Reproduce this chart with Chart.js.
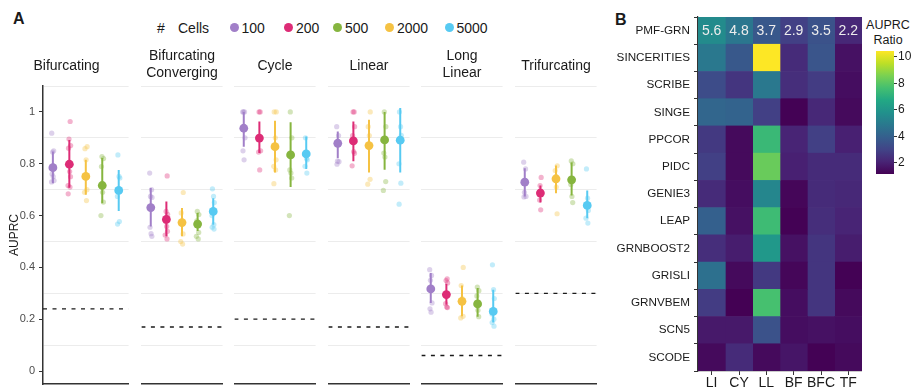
<!DOCTYPE html>
<html>
<head>
<meta charset="utf-8">
<script src="https://cdn.jsdelivr.net/npm/chart.js@4.4.1/dist/chart.umd.min.js"></script>
<style>
  body { margin: 0; background: #fff; }
  #wrap { position: relative; width: 919px; height: 389px; overflow: hidden; font-family: 'Liberation Sans', Arial, sans-serif; color: #1a1a1a; }
  #wrap canvas { position: absolute; }
  .panel { position: absolute; font-weight: bold; font-size: 16px; line-height: 16px; }
  .leg { position: absolute; top: 20px; font-size: 14px; line-height: 16px; white-space: nowrap; }
  .dot { position: absolute; top: 23px; width: 9px; height: 9px; border-radius: 50%; }
  #cbtitle { position: absolute; left: 858px; top: 18px; width: 60px; text-align: center; font-size: 12.5px; line-height: 15px; }
</style>
</head>
<body>
<div id="wrap">
  <div class="panel" style="left:13px;top:11px">A</div>
  <div class="panel" style="left:615px;top:12px">B</div>
  <div class="leg" style="left:157px">#</div>
  <div class="leg" style="left:178px">Cells</div>
  <div id="legend"></div>
  <div id="cbtitle">AUPRC<br>Ratio</div>
  <canvas id="f0" width="133" height="349" style="left:0;top:40px"></canvas>
  <canvas id="f1" width="90" height="349" style="left:137px;top:40px"></canvas>
  <canvas id="f2" width="90" height="349" style="left:230px;top:40px"></canvas>
  <canvas id="f3" width="90" height="349" style="left:324px;top:40px"></canvas>
  <canvas id="f4" width="90" height="349" style="left:417px;top:40px"></canvas>
  <canvas id="f5" width="90" height="349" style="left:511px;top:40px"></canvas>
  <canvas id="heat" width="257" height="389" style="left:605px;top:0"></canvas>
  <canvas id="cbar" width="43" height="200" style="left:876px;top:0"></canvas>
</div>
<script>
Chart.defaults.font.family = "'Liberation Sans', Arial, sans-serif";

// ---- panel A data ----
var topologies = [['Bifurcating'], ['Bifurcating', 'Converging'], ['Cycle'], ['Linear'], ['Long', 'Linear'], ['Trifurcating']];
var cellCounts = ['100', '200', '500', '2000', '5000'];
// order of the groups left to right inside each facet
var slotOrder = ['100', '200', '2000', '500', '5000'];
var randomBaseline = [0.24, 0.17, 0.20, 0.17, 0.06, 0.30];

// values per facet, in cellCounts order
var meanAUPRC = [
    [0.785, 0.798, 0.716, 0.751, 0.697],
    [0.631, 0.585, 0.567, 0.573, 0.616],
    [0.937, 0.899, 0.834, 0.866, 0.838],
    [0.879, 0.888, 0.892, 0.870, 0.891],
    [0.317, 0.295, 0.259, 0.269, 0.230],
    [0.729, 0.687, 0.738, 0.742, 0.639]
];
var errLow = [
    [0.725, 0.707, 0.648, 0.680, 0.618],
    [0.558, 0.520, 0.540, 0.520, 0.565],
    [0.866, 0.841, 0.710, 0.766, 0.780],
    [0.821, 0.810, 0.777, 0.766, 0.766],
    [0.263, 0.256, 0.210, 0.211, 0.187],
    [0.674, 0.650, 0.677, 0.686, 0.590]
];
var errHigh = [
    [0.847, 0.892, 0.822, 0.815, 0.776],
    [0.706, 0.654, 0.610, 0.629, 0.667],
    [1.000, 0.963, 0.960, 0.966, 0.905],
    [0.924, 0.963, 1.000, 0.970, 1.015],
    [0.378, 0.337, 0.320, 0.330, 0.314],
    [0.783, 0.716, 0.805, 0.793, 0.697]
];
var runAUPRC = [
    [[0.918, 0.85, 0.845, 0.79, 0.76, 0.75, 0.735, 0.73],
     [0.963, 0.895, 0.87, 0.86, 0.77, 0.75, 0.716, 0.71, 0.684],
     [0.828, 0.82, 0.789, 0.69, 0.652, 0.60],
     [0.866, 0.858, 0.815, 0.70, 0.69, 0.658],
     [0.834, 0.751, 0.745, 0.674, 0.577, 0.567]],
    [[0.764, 0.70, 0.674, 0.67, 0.555, 0.53, 0.52],
     [0.753, 0.616, 0.605, 0.577, 0.558, 0.539, 0.525, 0.51],
     [0.616, 0.604, 0.58, 0.56, 0.535, 0.52, 0.51],
     [0.689, 0.61, 0.58, 0.529, 0.50, 0.49],
     [0.703, 0.674, 0.65, 0.60, 0.565, 0.555, 0.548]],
    [[1, 1, 1, 0.90, 0.85, 0.815],
     [1, 1, 0.85, 0.845, 0.776],
     [1, 0.90, 0.776, 0.764, 0.745, 0.60],
     [1, 1, 0.90, 0.815, 0.79, 0.776, 0.723],
     [0.90, 0.82, 0.815, 0.79, 0.764]],
    [[0.943, 0.909, 0.81, 0.808, 0.798],
     [1, 1, 0.943, 0.909, 0.847, 0.84, 0.792],
     [1, 0.943, 0.841, 0.826, 0.731, 0.697],
     [1, 0.943, 0.909, 0.74, 0.721],
     [1, 0.943, 0.91, 0.80, 0.725, 0.644]],
    [[0.391, 0.369, 0.35, 0.263, 0.24, 0.227],
     [0.356, 0.349, 0.34, 0.26, 0.247, 0.245],
     [0.324, 0.31, 0.29, 0.235, 0.21],
     [0.40, 0.33, 0.28, 0.211, 0.205],
     [0.41, 0.314, 0.28, 0.22, 0.20, 0.187, 0.173]],
    [[0.806, 0.78, 0.69, 0.674, 0.672],
     [0.747, 0.716, 0.69, 0.66, 0.622],
     [0.811, 0.80, 0.72, 0.674, 0.65],
     [0.792, 0.774, 0.71, 0.607],
     [0.78, 0.667, 0.62, 0.59, 0.571]]
];
var yTicks = [0, 0.1, 0.2, 0.3, 0.4, 0.5, 0.6, 0.7, 0.8, 0.9, 1.0, 1.1];

// ---- panel B data ----
var methods = ['PMF-GRN', 'SINCERITIES', 'SCRIBE', 'SINGE', 'PPCOR', 'PIDC', 'GENIE3', 'LEAP', 'GRNBOOST2', 'GRISLI', 'GRNVBEM', 'SCN5', 'SCODE'];
var datasetCodes = ['LI', 'CY', 'LL', 'BF', 'BFC', 'TF'];
var ratioAUPRC = [
    [5.6, 4.8, 3.7, 2.9, 3.5, 2.2],
    [4.9, 3.7, 10.45, 2.3, 3.6, 1.6],
    [3.3, 2.6, 4.9, 2.4, 2.8, 1.5],
    [4.2, 4.1, 2.9, 1.2, 2.2, 1.4],
    [2.7, 1.4, 7.4, 2.1, 2.9, 2.0],
    [2.9, 1.4, 8.3, 2.0, 2.3, 2.3],
    [2.3, 1.5, 5.4, 1.3, 2.3, 2.2],
    [4.0, 1.6, 7.5, 1.2, 2.4, 2.1],
    [2.4, 1.9, 6.1, 1.6, 2.6, 1.9],
    [4.6, 1.4, 2.7, 1.3, 2.6, 1.2],
    [2.8, 1.17, 7.7, 1.5, 2.6, 1.4],
    [1.8, 1.8, 3.5, 1.5, 1.6, 1.5],
    [1.4, 2.3, 1.4, 1.7, 1.2, 1.4]
];
var colorTicks = [2, 4, 6, 8, 10];

// ---- styles ----
var cellColors = ['#a17fc8', '#dd2c76', '#86b53f', '#f5c243', '#57caf2'];
var legendDotLeft = [229.5, 284, 333, 385, 444.5];
var jitter = [-0.07, 0.05, -0.02, 0.08, -0.05, 0.02, 0.07, -0.08, 0.04];
var viridisStops = ['#440154', '#482475', '#414487', '#355f8d', '#2a788e', '#21918c', '#22a884', '#44bf70', '#7ad151', '#bddf26', '#fde725'];

function hexToRgb(h) {
    return [parseInt(h.substr(1, 2), 16), parseInt(h.substr(3, 2), 16), parseInt(h.substr(5, 2), 16)];
}
function alpha(h, a) {
    var c = hexToRgb(h);
    return 'rgba(' + c[0] + ',' + c[1] + ',' + c[2] + ',' + a + ')';
}

var allRatios = ratioAUPRC.reduce(function (a, r) { return a.concat(r); }, []);
var colorMin = Math.min.apply(null, allRatios);
var colorMax = Math.max.apply(null, allRatios);

function viridis(v) {
    var t = Math.max(0, Math.min(1, (v - colorMin) / (colorMax - colorMin))) * (viridisStops.length - 1);
    var i = Math.min(Math.floor(t), viridisStops.length - 2);
    var f = t - i;
    var a = hexToRgb(viridisStops[i]), b = hexToRgb(viridisStops[i + 1]);
    return 'rgb(' + a.map(function (x, k) { return Math.round(x + (b[k] - x) * f); }).join(',') + ')';
}

// legend
document.getElementById('legend').innerHTML = cellCounts.map(function (c, k) {
    return '<span class="dot" style="left:' + legendDotLeft[k] + 'px;background:' + cellColors[k] + '"></span>' +
        '<span class="leg" style="left:' + (legendDotLeft[k] + 12) + 'px">' + c + '</span>';
}).join('');

// ---- panel A: one chart per facet ----
function isOddTenth(v) { return Math.round(v * 10) % 2 === 1; }

topologies.forEach(function (topo, f) {
    var first = f === 0;
    var datasets = [];
    cellCounts.forEach(function (c, k) {
        var x = slotOrder.indexOf(c) + 1;
        datasets.push({
            type: 'scatter', order: 0,
            data: [{ x: x, y: meanAUPRC[f][k] }],
            backgroundColor: cellColors[k], pointRadius: 4.4, pointBorderWidth: 0
        });
        datasets.push({
            type: 'scatter', order: 1, showLine: true,
            data: [{ x: x, y: errLow[f][k] }, { x: x, y: errHigh[f][k] }],
            borderColor: cellColors[k], borderWidth: 2, pointRadius: 0
        });
        datasets.push({
            type: 'scatter', order: 2,
            data: runAUPRC[f][k].map(function (v, i) { return { x: x + jitter[(i + k) % jitter.length], y: v }; }),
            backgroundColor: alpha(cellColors[k], 0.36), pointRadius: 2.6, pointBorderWidth: 0
        });
    });
    datasets.push({
        type: 'scatter', order: 3, showLine: true,
        data: [{ x: 0.4, y: randomBaseline[f] }, { x: 5.6, y: randomBaseline[f] }],
        borderColor: '#1a1a1a', borderWidth: 1.3, borderDash: [4, 5.5], pointRadius: 0
    });

    new Chart(document.getElementById('f' + f), {
        type: 'scatter',
        data: { datasets: datasets },
        options: {
            responsive: false,
            animation: false,
            layout: { padding: { top: 0, bottom: 5, left: 0, right: 0 } },
            plugins: {
                legend: { display: false },
                tooltip: { enabled: false },
                title: {
                    display: true,
                    text: topo,
                    color: '#1a1a1a',
                    font: { size: 14, weight: 'normal', lineHeight: 1.2 },
                    padding: topo.length > 1 ? { top: 7.6, bottom: 4.8 } : { top: 17.6, bottom: 11.6 }
                }
            },
            scales: {
                x: {
                    type: 'linear', min: 0.4, max: 5.6,
                    grid: { display: false, drawTicks: false },
                    ticks: { display: false },
                    border: { display: true, color: '#333', width: 1.5 },
                    afterFit: function (s) { s.height = 0; s.paddingLeft = 0; s.paddingRight = 0; }
                },
                y: {
                    min: -0.05, max: 1.1,
                    afterBuildTicks: function (s) { s.ticks = yTicks.map(function (v) { return { value: v }; }); },
                    grid: {
                        color: function (ctx) { return ctx.tick && isOddTenth(ctx.tick.value) ? '#ececec' : 'rgba(0,0,0,0)'; },
                        tickColor: function (ctx) { return ctx.tick && !isOddTenth(ctx.tick.value) ? '#333' : 'rgba(0,0,0,0)'; },
                        lineWidth: 1,
                        drawTicks: first,
                        tickLength: 4
                    },
                    ticks: {
                        display: first,
                        padding: 4,
                        color: '#4d4d4d',
                        font: { size: 11 },
                        callback: function (v) {
                            if (isOddTenth(v)) return '';
                            return Math.abs(v - Math.round(v)) < 1e-6 ? String(Math.round(v)) : v.toFixed(1);
                        }
                    },
                    border: { display: first, color: '#333', width: 1.5 },
                    title: { display: first, text: 'AUPRC', color: '#1a1a1a', font: { size: 12 }, padding: { top: 7, bottom: 0 } },
                    afterFit: function (s) { s.width = first ? 43 : 0; s.paddingTop = 0; s.paddingBottom = 0; }
                }
            }
        }
    });
});

// ---- panel B: heatmap ----
var cellLabels = {
    id: 'cellLabels',
    afterDatasetsDraw: function (chart) {
        var ctx = chart.ctx, x = chart.scales.x, y = chart.scales.y;
        ctx.save();
        ctx.font = "14px 'Liberation Sans', Arial, sans-serif";
        ctx.fillStyle = '#ededed';
        ctx.textAlign = 'center';
        ctx.textBaseline = 'middle';
        ratioAUPRC[0].forEach(function (v, c) {
            ctx.fillText(v.toFixed(1), x.getPixelForValue(c + 0.5), y.getPixelForValue(0) + 1);
        });
        ctx.restore();
    }
};

new Chart(document.getElementById('heat'), {
    type: 'bar',
    data: {
        labels: methods,
        datasets: datasetCodes.map(function (code, c) {
            return {
                label: code,
                data: methods.map(function () { return 1; }),
                backgroundColor: methods.map(function (m, r) { return viridis(ratioAUPRC[r][c]); }),
                borderWidth: 0,
                barPercentage: 1,
                categoryPercentage: 1
            };
        })
    },
    options: {
        indexAxis: 'y',
        responsive: false,
        animation: false,
        layout: { padding: { top: 17, right: 0, left: 0, bottom: 0 } },
        plugins: { legend: { display: false }, tooltip: { enabled: false } },
        scales: {
            x: {
                stacked: true, min: 0, max: 6,
                afterBuildTicks: function (s) { s.ticks = datasetCodes.map(function (d, i) { return { value: i + 0.5 }; }); },
                ticks: {
                    autoSkip: false, maxRotation: 0, minRotation: 0, padding: 0,
                    color: '#1a1a1a', font: { size: 14 },
                    callback: function (v) { return datasetCodes[Math.floor(v)]; }
                },
                grid: { drawOnChartArea: false, tickLength: 4, tickColor: '#333' },
                border: { color: '#333', width: 1.2 },
                afterFit: function (s) { s.height = 18; s.paddingLeft = 0; s.paddingRight = 0; }
            },
            y: {
                stacked: true,
                ticks: { autoSkip: false, padding: 4, color: '#1a1a1a', font: { size: 11.7 } },
                grid: { drawOnChartArea: false, tickLength: 4, tickColor: '#333' },
                border: { color: '#333', width: 1.2 },
                afterFit: function (s) { s.width = 93; s.paddingTop = 0; s.paddingBottom = 0; }
            }
        }
    },
    plugins: [cellLabels]
});

// ---- colour bar ----
new Chart(document.getElementById('cbar'), {
    type: 'bar',
    data: {
        labels: [''],
        datasets: [{
            data: [[colorMin, colorMax]],
            backgroundColor: function (ctx) {
                var chart = ctx.chart;
                if (!chart.chartArea) return null;
                var ys = chart.scales.y;
                var g = chart.ctx.createLinearGradient(0, ys.getPixelForValue(colorMin), 0, ys.getPixelForValue(colorMax));
                viridisStops.forEach(function (s, i) { g.addColorStop(i / (viridisStops.length - 1), s); });
                return g;
            },
            borderWidth: 0,
            barPercentage: 1,
            categoryPercentage: 1
        }]
    },
    options: {
        responsive: false,
        animation: false,
        layout: { padding: { top: 51, bottom: 26, left: 0, right: 0 } },
        plugins: { legend: { display: false }, tooltip: { enabled: false } },
        scales: {
            x: { display: false },
            y: {
                position: 'right',
                min: colorMin, max: colorMax,
                afterBuildTicks: function (s) { s.ticks = colorTicks.map(function (v) { return { value: v }; }); },
                ticks: { padding: 1, color: '#1a1a1a', font: { size: 12 } },
                grid: { drawOnChartArea: false, tickLength: 3, tickColor: '#333' },
                border: { display: false },
                afterFit: function (s) { s.width = 25; s.paddingTop = 0; s.paddingBottom = 0; }
            }
        }
    }
});
</script>
</body>
</html>
